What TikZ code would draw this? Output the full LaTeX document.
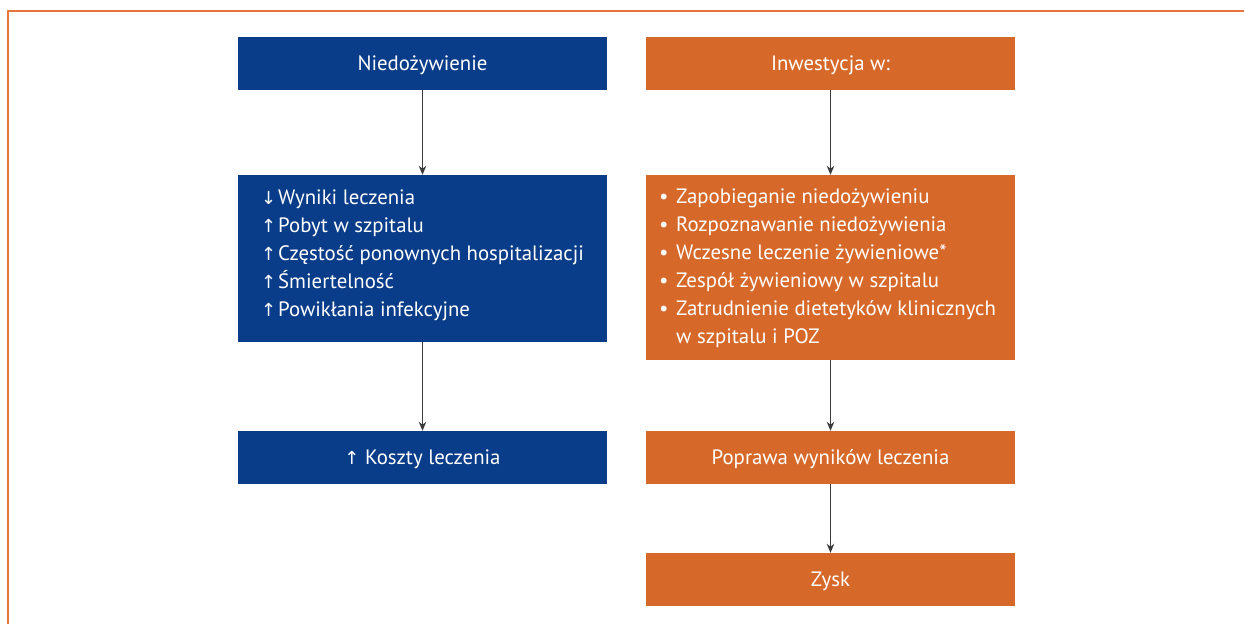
\documentclass[tikz,border=0pt]{standalone}
\usepackage{fontspec}
\setmainfont{PT Sans}
\newfontfamily\arrowfont{DejaVu Sans}
\usetikzlibrary{arrows.meta}
\definecolor{nblue}{HTML}{0A3D89}
\definecolor{norange}{HTML}{D6692A}
\definecolor{frame}{HTML}{E8763A}
\definecolor{conn}{HTML}{3A3A3A}
\begin{document}
\begin{tikzpicture}[x=1pt,y=-1pt,
  boxb/.style={fill=nblue,draw=none,minimum width=369pt,inner sep=0pt,text=white,text height=19pt,text depth=4.5pt,font=\fontsize{20.8}{28}\selectfont},
  boxo/.style={fill=norange,draw=none,minimum width=369pt,inner sep=0pt,text=white,text height=19pt,text depth=4.5pt,font=\fontsize{20.8}{28}\selectfont},
  listtext/.style={anchor=west,inner sep=0pt,text=white,align=left,font=\fontsize{20.8}{28}\selectfont},
  conarrow/.style={draw=conn,line width=1.1pt,-{Stealth[length=9pt,width=7.5pt]}}]
\useasboundingbox (0,0) rectangle (1244,624);
\fill[white] (0,0) rectangle (1244,624);
\draw[frame,line width=1.5pt] (8,624) -- (8,11) -- (1244,11);
% left column
\node[boxb,minimum height=53pt] (n1) at (422.5,63.5) {Niedożywienie};
\node[boxb,minimum height=167pt] (n2) at (422.5,258.5) {};
\node[listtext] (n2t) at (261,255.5) {%
\makebox[17pt][l]{\arrowfont\fontsize{18}{28}\selectfont ↓}Wyniki leczenia\\
\makebox[17pt][l]{\arrowfont\fontsize{18}{28}\selectfont ↑}Pobyt w szpitalu\\
\makebox[17pt][l]{\arrowfont\fontsize{18}{28}\selectfont ↑}Częstość ponownych hospitalizacji\\
\makebox[17pt][l]{\arrowfont\fontsize{18}{28}\selectfont ↑}Śmiertelność\\
\makebox[17pt][l]{\arrowfont\fontsize{18}{28}\selectfont ↑}Powikłania infekcyjne};
\node[boxb,minimum height=53pt] (n3) at (422.5,457.5) {{\arrowfont\fontsize{18}{28}\selectfont ↑} Koszty leczenia};
% right column
\node[boxo,minimum height=53pt] (o1) at (830.5,63.5) {Inwestycja w:};
\node[boxo,minimum height=185pt] (o2) at (830.5,267.5) {};
\node[listtext] (o2t) at (659,268.5) {%
\makebox[17pt][l]{•}Zapobieganie niedożywieniu\\
\makebox[17pt][l]{•}Rozpoznawanie niedożywienia\\
\makebox[17pt][l]{•}Wczesne leczenie żywieniowe*\\
\makebox[17pt][l]{•}Zespół żywieniowy w szpitalu\\
\makebox[17pt][l]{•}Zatrudnienie dietetyków klinicznych\\
\hspace*{17pt}w szpitalu i POZ};
\node[boxo,minimum height=53pt] (o3) at (830.5,457.5) {Poprawa wyników leczenia};
\node[boxo,minimum height=53pt] (o4) at (830.5,579.5) {Zysk};
% connectors
\draw[conarrow] (n1) -- (n2);
\draw[conarrow] (n2) -- (n3);
\draw[conarrow] (o1) -- (o2);
\draw[conarrow] (o2) -- (o3);
\draw[conarrow] (o3) -- (o4);
\end{tikzpicture}
\end{document}
